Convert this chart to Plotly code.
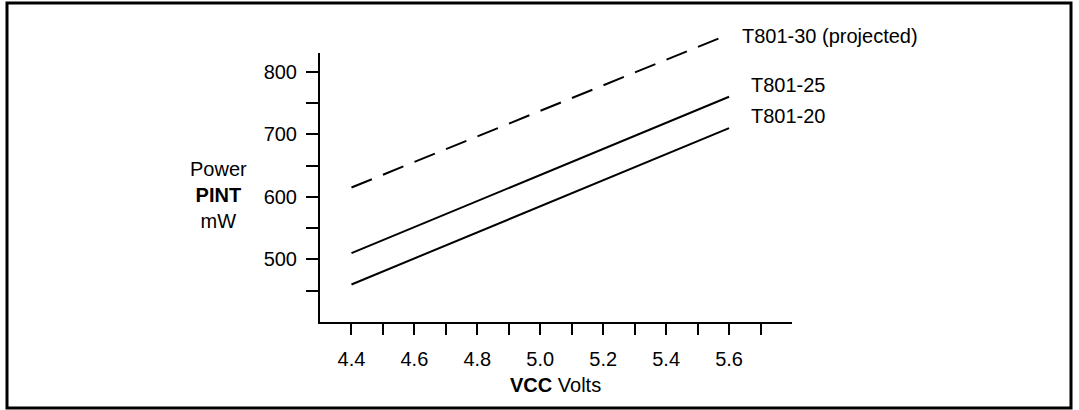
import plotly.graph_objects as go

# ---- data ----
volts = [4.4, 5.6]
t801_20 = [460, 710]
t801_25 = [510, 760]
t801_30 = [615, 860]

series_names = ["T801-20", "T801-25", "T801-30 (projected)"]

x_tickvals = [4.4, 4.5, 4.6, 4.7, 4.8, 4.9, 5.0, 5.1, 5.2, 5.3, 5.4, 5.5, 5.6, 5.7]
x_ticktext = ["4.4", "", "4.6", "", "4.8", "", "5.0", "", "5.2", "", "5.4", "", "5.6", ""]
y_tickvals = [450, 500, 550, 600, 650, 700, 750, 800]
y_ticktext = ["", "500", "", "600", "", "700", "", "800"]

# label anchor points (data coords)
label_x = [5.663, 5.663, 5.635]
label_y = [729, 779, 857]

X_RANGE = [4.3, 5.8]
Y_RANGE = [400, 830]

FONT = "Liberation Sans, Arial, Helvetica, sans-serif"
FS = 20

# geometry (px)
W, H = 1079, 410
L, R, T, B = 320, 287, 20, 88
plot_h = H - T - B            # full (extended) plot height
axis_h = 322 - 53             # visible axis height
dom = axis_h / plot_h
y2_top = Y_RANGE[0] + (Y_RANGE[1] - Y_RANGE[0]) / dom

fig = go.Figure()
fig.add_trace(go.Scatter(x=volts, y=t801_20, mode="lines", yaxis="y",
                         line=dict(color="black", width=2), name=series_names[0]))
fig.add_trace(go.Scatter(x=volts, y=t801_25, mode="lines", yaxis="y",
                         line=dict(color="black", width=2), name=series_names[1]))
fig.add_trace(go.Scatter(x=volts, y=t801_30, mode="lines", yaxis="y2",
                         line=dict(color="black", width=2, dash="22px,12px"),
                         name=series_names[2]))

for nm, lx, ly in zip(series_names, label_x, label_y):
    fig.add_annotation(x=lx, y=ly, xref="x", yref="y2", text=nm, showarrow=False,
                       xanchor="left", yanchor="middle",
                       font=dict(family=FONT, size=FS, color="black"))

plot_w = W - L - R
def px_x(p):
    return (p - L) / plot_w
def px_y(p):
    return (H - B - p) / plot_h

fig.add_annotation(x=px_x(218), y=px_y(195), xref="paper", yref="paper",
                   text="Power<br><b>PINT</b><br>mW", showarrow=False,
                   xanchor="center", yanchor="middle", align="center",
                   font=dict(family=FONT, size=FS, color="black"))
fig.add_annotation(x=px_x(555), y=px_y(385), xref="paper", yref="paper",
                   text="<b>VCC</b> Volts", showarrow=False,
                   xanchor="center", yanchor="middle",
                   font=dict(family=FONT, size=FS, color="black"))

# outer frame
fig.add_shape(type="rect", xref="paper", yref="paper",
              x0=px_x(7), x1=px_x(1071), y0=px_y(408), y1=px_y(3),
              line=dict(color="black", width=3))

fig.update_layout(
    width=W, height=H, autosize=False,
    margin=dict(l=L, r=R, t=T, b=B, pad=0),
    paper_bgcolor="white", plot_bgcolor="rgba(0,0,0,0)",
    showlegend=False,
    font=dict(family=FONT, size=FS, color="black"),
    xaxis=dict(range=X_RANGE, showgrid=False, zeroline=False, anchor="y",
               showline=True, linecolor="black", linewidth=2,
               ticks="outside", ticklen=11, tickwidth=2, tickcolor="black",
               tickvals=x_tickvals, ticktext=x_ticktext,
               ticklabelstandoff=7,
               tickfont=dict(family=FONT, size=FS, color="black")),
    yaxis=dict(range=Y_RANGE, domain=[0, dom], showgrid=False, zeroline=False,
               showline=True, linecolor="black", linewidth=2,
               ticks="outside", ticklen=12, tickwidth=2, tickcolor="black",
               tickvals=y_tickvals, ticktext=y_ticktext,
               ticklabelstandoff=5,
               tickfont=dict(family=FONT, size=FS, color="black")),
    yaxis2=dict(range=[Y_RANGE[0], y2_top], domain=[0, 1], anchor="x",
                visible=False, showgrid=False, zeroline=False),
)

fig.write_html("out.html", config={"displayModeBar": False},
               post_script="document.body.style.margin='0';document.body.style.overflow='hidden';")
